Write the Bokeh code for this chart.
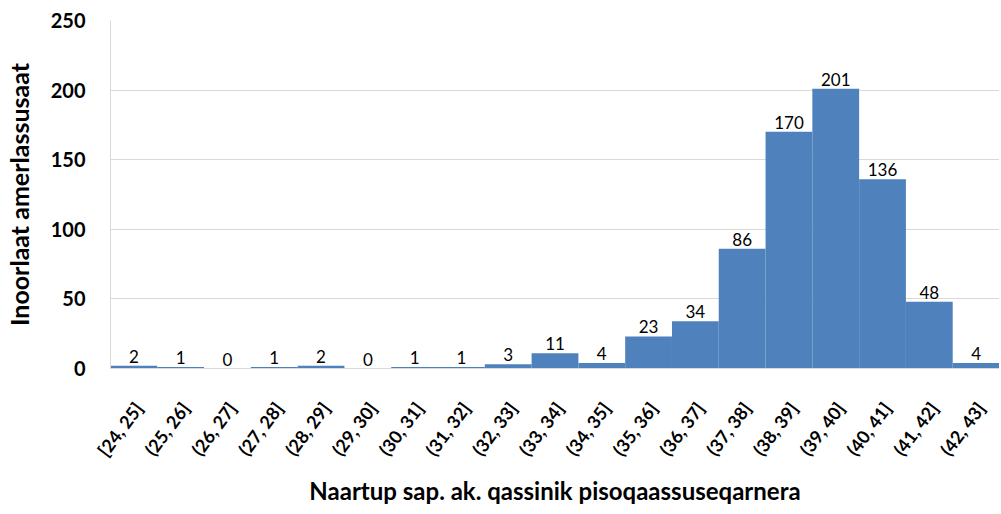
import math
from bokeh.plotting import figure
from bokeh.models import ColumnDataSource, Range1d, LabelSet, FixedTicker
from bokeh.core.properties import value
from bokeh.embed import file_html
from bokeh.resources import INLINE

categories = ["[24, 25]", "(25, 26]", "(26, 27]", "(27, 28]", "(28, 29]", "(29, 30]",
              "(30, 31]", "(31, 32]", "(32, 33]", "(33, 34]", "(34, 35]", "(35, 36]",
              "(36, 37]", "(37, 38]", "(38, 39]", "(39, 40]", "(40, 41]", "(41, 42]", "(42, 43]"]
counts = [2, 1, 0, 1, 2, 0, 1, 1, 3, 11, 4, 23, 34, 86, 170, 201, 136, 48, 4]
y_ticks = [0, 50, 100, 150, 200, 250]

FONT = "Lato"
BLUE = "#4F81BD"
GRID = "#D9D9D9"

# x in units of 1/100 bin: bin i spans [100*i, 100*(i+1)]
n = len(categories)
centers = [100 * i + 50 for i in range(n)]
tick_pos = [100 * i + 60 for i in range(n)]   # label end sits a little right of the bin centre

src = ColumnDataSource(dict(x=centers, count=counts, lbl=[str(c) for c in counts]))

p = figure(x_range=Range1d(0, 100 * n), y_range=Range1d(0, 250), width=999, height=511,
           output_backend="svg", toolbar_location=None,
           min_border_left=106, min_border_right=0, min_border_top=20, min_border_bottom=143)

p.vbar(x="x", top="count", width=100, source=src, fill_color=BLUE, line_color=None)

labels = LabelSet(x="x", y="count", text="lbl", source=src, y_offset=3,
                  text_align="center", text_baseline="bottom",
                  text_font=value(FONT), text_font_size="17px", text_color="#000000")
p.add_layout(labels)

p.outline_line_color = None
p.xgrid.grid_line_color = None
p.ygrid.grid_line_color = GRID
p.ygrid.grid_line_width = 1
p.yaxis.ticker = FixedTicker(ticks=y_ticks)
p.xaxis.ticker = FixedTicker(ticks=tick_pos)
p.xaxis.major_label_overrides = {t: c for t, c in zip(tick_pos, categories)}

for ax in (p.xaxis[0], p.yaxis[0]):
    ax.axis_line_color = GRID
    ax.major_tick_line_color = None
    ax.minor_tick_line_color = None
    ax.major_label_text_font = FONT
    ax.major_label_text_font_style = "bold"
    ax.major_label_text_font_size = "20px"
    ax.major_label_text_color = "#000000"
    ax.axis_label_text_font = FONT
    ax.axis_label_text_font_style = "bold"
    ax.axis_label_text_font_size = "24px"
    ax.axis_label_text_color = "#000000"

p.yaxis.axis_label = "Inoorlaat amerlassusaat"
p.yaxis.axis_label_text_font_size = "25px"
p.yaxis.major_label_standoff = 19
p.yaxis.axis_label_standoff = 14

p.xaxis.axis_label = "Naartup sap. ak. qassinik pisoqaassuseqarnera"
p.xaxis.major_label_text_font_size = "18px"
p.xaxis.major_label_orientation = math.radians(53)
p.xaxis.major_label_standoff = 30
p.xaxis.axis_label_standoff = 6

open("out.html", "w").write(file_html(p, INLINE))
